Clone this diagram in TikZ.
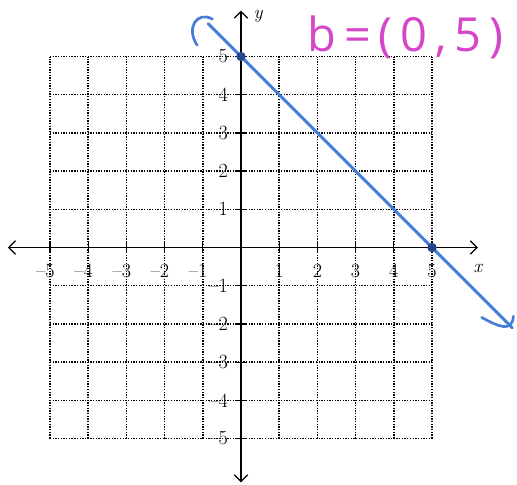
\documentclass[tikz,border=0pt]{standalone}
\usepackage{fontspec}
\newfontfamily\handfont{Open Sans}
\usetikzlibrary{arrows.meta}
\definecolor{penblue}{RGB}{70,125,215}
\definecolor{dotblue}{RGB}{40,70,140}
\definecolor{penpink}{RGB}{214,70,200}
\tikzset{
  gridline/.style={line width=1.1pt, dash pattern=on 1pt off 1pt, black},
  axisline/.style={line width=0.9pt, {Straight Barb[length=5pt,width=10pt]}-{Straight Barb[length=5pt,width=10pt]}},
  tickmark/.style={line width=0.9pt},
  numlab/.style={font=\fontsize{15}{17}\selectfont, inner sep=1pt},
  penline/.style={penblue, line width=2.2pt, line cap=round},
  penhook/.style={penblue, line width=2pt, line cap=round},
  ptdot/.style={circle, fill=dotblue, inner sep=0pt, minimum size=7pt}
}
\begin{document}
\begin{tikzpicture}[x=1cm,y=1cm]
\useasboundingbox (-6.309,-6.217) rectangle (7.225,6.479);
% grid
\foreach \i in {-5,...,-1,1,2,...,5} {
  \draw[gridline] (\i,-5) -- (\i,5);
  \draw[gridline] (-5,\i) -- (5,\i);
}
\draw[gridline] (-5,0) -- (5,0);
\draw[gridline] (0,-5) -- (0,5);
% axes
\coordinate (xl) at (-6.1,0);
\coordinate (xr) at (6.2,0);
\coordinate (yb) at (0,-6.15);
\coordinate (yt) at (0,6.2);
\draw[axisline] (xl) -- (xr);
\draw[axisline] (yb) -- (yt);
% ticks
\foreach \i in {-5,...,-1,1,2,...,5} {
  \draw[tickmark] (\i,-0.14) -- (\i,0.14);
  \draw[tickmark] (-0.14,\i) -- (0.14,\i);
}
% x labels
\foreach \i in {1,...,5} {
  \node[numlab, anchor=north] (xlab\i) at (\i,-0.4) {\i};
  \node[numlab, anchor=north] (xlabm\i) at (-\i,-0.4) {\llap{--}\i};
}
% y labels
\foreach \i in {1,...,5} {
  \node[numlab, anchor=east] (ylab\i) at (-0.3,\i) {\i};
  \node[numlab, anchor=east] (ylabm\i) at (-0.3,-\i) {--\i};
}
\node[font=\itshape\fontsize{14}{16}\selectfont] (xname) at (6.2,-0.55) {x};
\node[font=\itshape\fontsize{14}{16}\selectfont] (yname) at (0.45,6.05) {y};
% blue line
\coordinate (la) at (-0.86,5.86);
\coordinate (lb) at (7.1,-2.1);
\draw[penline] (la) -- (lb);
\draw[penhook] (-1.15,5.3) .. controls (-1.45,5.75) and (-1.15,6.2) .. (-0.75,5.98);
\draw[penhook] (6.3,-1.83) .. controls (6.7,-2.05) and (7.1,-2.25) .. (7.13,-1.8);
\node[ptdot] (p1) at (0,5) {};
\node[ptdot] (p2) at (5,0) {};
% pink label
\node[penpink, font=\handfont\fontsize{35}{35}\selectfont] (blab) at (4.3,5.5) {b\,=\,(\,0\,,\,5\,)};
\end{tikzpicture}
\end{document}
